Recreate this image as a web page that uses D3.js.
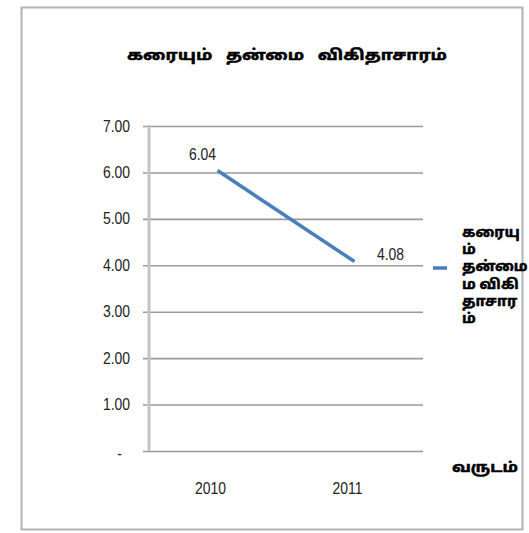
<!DOCTYPE html>
<html>
<head>
<meta charset="utf-8">
<script src="https://cdn.jsdelivr.net/npm/d3@7"></script>
<style>
  body { margin: 0; background: #fff; }
  text { font-family: "Liberation Sans Narrow", "Arial Narrow", "Liberation Sans", sans-serif; }
  .ta { font-family: "Noto Sans Tamil", "Lohit Tamil", "Noto Sans", sans-serif; font-weight: bold;
        stroke: #000; stroke-width: 0.5px; }
</style>
</head>
<body>
<svg id="chart" width="529" height="533"></svg>
<script>
// data
var years = ['2010', '2011']
var values = [6.04, 4.08]
var yTicks = [0, 1, 2, 3, 4, 5, 6, 7]
var title = 'கரையும்   தன்மை   விகிதாசாரம்'
var seriesName = ['கரையு', 'ம்', 'தன்மை', 'ம விகி', 'தாசார', 'ம்']
var xTitle = 'வருடம்'

var svg = d3.select('#chart')

// squeeze/stretch text horizontally (no narrow font here)
function stretch(sel, k) {
  sel.each(function () {
    var w = this.getComputedTextLength()
    if (w > 0) d3.select(this).attr('textLength', w * k).attr('lengthAdjust', 'spacingAndGlyphs')
  })
  return sel
}

// outer frame
svg.append('rect').attr('x', 21.5).attr('y', 7.5).attr('width', 501).attr('height', 522)
  .attr('fill', '#fff').attr('stroke', '#b4b4b4').attr('stroke-width', 2)

var plot = { left: 149, right: 423, top: 126, bottom: 451 }

var x = d3.scaleBand().domain(years).range([plot.left, plot.right])
var y = d3.scaleLinear().domain([0, 7]).range([plot.bottom, plot.top])

// gridlines + y labels
var yAxis = d3.axisLeft(y).tickValues(yTicks)
  .tickSize(-(plot.right - plot.left))
  .tickPadding(19)
  .tickFormat(function (d) { return d === 0 ? '-' : d.toFixed(2) })

var gy = svg.append('g').attr('transform', 'translate(' + plot.left + ',0)').call(yAxis)
gy.select('.domain').remove()
gy.selectAll('.tick line').attr('x1', -6).attr('stroke', '#9a9a9a').attr('stroke-width', 1.6)
gy.selectAll('.tick text').attr('font-size', 16).attr('fill', '#222')
  .attr('font-family', null)
gy.selectAll('.tick').filter(function (d) { return d === 0 })
  .select('text').attr('dx', -8).attr('dy', '0.45em')
stretch(gy.selectAll('.tick text'), 0.87)

// vertical axis line
svg.append('line').attr('x1', plot.left).attr('x2', plot.left)
  .attr('y1', plot.top - 1).attr('y2', plot.bottom)
  .attr('stroke', '#c4c4c4').attr('stroke-width', 3)

// x labels
var xAxis = d3.axisBottom(x).tickSize(0).tickPadding(32)
var gx = svg.append('g').attr('transform', 'translate(-7,' + plot.bottom + ')').call(xAxis)
gx.select('.domain').remove()
gx.selectAll('.tick text').attr('font-size', 16).attr('fill', '#222')
  .attr('font-family', null)
stretch(gx.selectAll('.tick text'), 0.87)

// series line
var pts = years.map(function (yr, i) { return [x(yr) + x.bandwidth() / 2, y(values[i])] })
svg.append('path').datum(pts)
  .attr('d', d3.line())
  .attr('fill', 'none').attr('stroke', '#4a7ebb').attr('stroke-width', 3.5)

// data labels
var dl = svg.selectAll('.dlabel').data(values).enter().append('text')
  .attr('class', 'dlabel')
  .attr('x', function (d, i) { return pts[i][0] + (i === 0 ? -15 : 36) })
  .attr('y', function (d, i) { return pts[i][1] + (i === 0 ? -16 : -7) })
  .attr('dy', '0.35em').attr('text-anchor', 'middle')
  .attr('font-size', 16).attr('fill', '#222')
  .text(function (d) { return d.toFixed(2) })
stretch(dl, 0.87)

// title
svg.append('text').attr('class', 'ta').attr('x', 287).attr('y', 55).attr('dy', '0.35em')
  .attr('text-anchor', 'middle').attr('font-size', 15).attr('fill', '#000')
  .attr('textLength', 320).attr('lengthAdjust', 'spacingAndGlyphs')
  .style('white-space', 'pre').text(title)

// legend
svg.append('line').attr('x1', 433).attr('x2', 447).attr('y1', 268).attr('y2', 268)
  .attr('stroke', '#4a7ebb').attr('stroke-width', 3.5)
var lg = svg.append('g').selectAll('text').data(seriesName).enter().append('text')
  .attr('class', 'ta').attr('x', 462)
  .attr('y', function (d, i) { return 232 + i * 17.2 }).attr('dy', '0.35em')
  .attr('font-size', 14).attr('fill', '#000')
  .text(function (d) { return d })
stretch(lg, 1.05)

// x axis title
var xt = svg.append('text').attr('class', 'ta').attr('x', 452).attr('y', 467).attr('dy', '0.35em')
  .attr('font-size', 14).attr('fill', '#000').text(xTitle)
stretch(xt, 1.18)
</script>
</body>
</html>
